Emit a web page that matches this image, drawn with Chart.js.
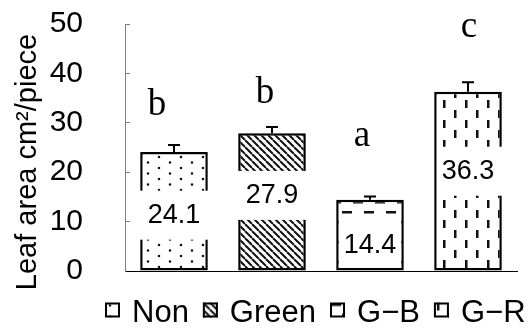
<!DOCTYPE html>
<html>
<head>
<meta charset="utf-8">
<script src="https://cdn.jsdelivr.net/npm/chart.js@4.4.1/dist/chart.umd.min.js"></script>
<style>
  html, body { margin: 0; padding: 0; background: #fff; }
  #wrap { width: 528px; height: 329px; }
</style>
</head>
<body>
<div id="wrap"><canvas id="leaf"></canvas></div>
<script>
'use strict';

// data
const categories = ['Non', 'Green', 'G\u2212B', 'G\u2212R'];
const leafArea = [24.1, 27.9, 14.4, 36.3];
const leafAreaErr = [1.4, 1.25, 0.7, 1.9];
const groupLetters = ['b', 'b', 'a', 'c'];
const yTicks = [0, 10, 20, 30, 40, 50];

const SANS = '"Liberation Sans", Arial, sans-serif';
const SERIF = '"Liberation Serif", "Times New Roman", serif';

const leafCanvas = document.getElementById('leaf');
const mainCtx = leafCanvas.getContext('2d');

// small tiles -> hatch patterns
function makePattern(w, h, draw) {
  const c = document.createElement('canvas');
  c.width = w;
  c.height = h;
  const g = c.getContext('2d');
  g.fillStyle = '#fff';
  g.fillRect(0, 0, w, h);
  g.fillStyle = '#111';
  g.strokeStyle = '#111';
  draw(g);
  return mainCtx.createPattern(c, 'repeat');
}

const dots = makePattern(22, 11, (g) => {
  g.beginPath();
  g.arc(5, 3, 1.3, 0, Math.PI * 2);
  g.arc(16, 8.5, 1.3, 0, Math.PI * 2);
  g.fill();
});

const stripes = makePattern(7, 7, (g) => {
  g.lineWidth = 2;
  g.beginPath();
  [-7, 0, 7].forEach((k) => {
    g.moveTo(k, 0);
    g.lineTo(k + 7, 7);
  });
  g.stroke();
});

const hDashes = makePattern(22, 20, (g) => {
  g.fillRect(1, 1, 10, 2.5);
  g.fillRect(12, 11, 10, 2.5);
});

const vDashes = makePattern(22, 20, (g) => {
  g.fillRect(3, 0, 2.5, 8);
  g.fillRect(14, 10, 2.5, 8);
});

const fills = [dots, stripes, hDashes, vDashes];

// error bars, value boxes and letters on top of the bars
const barNotes = {
  id: 'barNotes',
  afterDatasetsDraw(chart, args, opts) {
    const { ctx } = chart;
    const yScale = chart.scales.y;
    const meta = chart.getDatasetMeta(0);
    ctx.save();
    meta.data.forEach((bar, i) => {
      // error bar (upper half only)
      const yTop = yScale.getPixelForValue(leafArea[i] + leafAreaErr[i]);
      ctx.strokeStyle = '#000';
      ctx.lineWidth = 2;
      ctx.beginPath();
      ctx.moveTo(bar.x, bar.y);
      ctx.lineTo(bar.x, yTop);
      ctx.moveTo(bar.x - 6, yTop);
      ctx.lineTo(bar.x + 6, yTop);
      ctx.stroke();

      // white box with the value
      const cy = yScale.getPixelForValue(opts.valueY[i]);
      const [l, r] = opts.valueBox[i];
      const top = cy - 25;
      const bottom = Math.min(cy + 24, bar.base - 3);
      ctx.fillStyle = '#fff';
      ctx.fillRect(bar.x + l, top, r - l, bottom - top);
      ctx.fillStyle = '#000';
      ctx.font = '27px ' + SANS;
      ctx.textAlign = 'center';
      ctx.textBaseline = 'middle';
      ctx.fillText(leafArea[i].toFixed(1), bar.x, cy);

      // significance letter
      ctx.font = '37px ' + SERIF;
      ctx.textBaseline = 'alphabetic';
      ctx.fillText(groupLetters[i], bar.x + opts.letterDx[i], yScale.getPixelForValue(opts.letterY[i]));
    });
    ctx.restore();
  },
};

// y title + legend with the hatch boxes
const frameText = {
  id: 'frameText',
  afterDraw(chart, args, opts) {
    const { ctx } = chart;
    ctx.save();
    ctx.fillStyle = '#000';
    ctx.font = '29px ' + SANS;
    ctx.translate(opts.titleX, opts.titleY);
    ctx.rotate(-Math.PI / 2);
    ctx.textAlign = 'center';
    ctx.textBaseline = 'alphabetic';
    ctx.fillText('Leaf area cm\u00b2/piece', 0, 0);
    ctx.restore();

    ctx.save();
    ctx.font = '31px ' + SANS;
    ctx.textBaseline = 'middle';
    ctx.textAlign = 'left';
    let x = opts.legendX;
    const box = opts.box;
    categories.forEach((name, i) => {
      ctx.save();
      ctx.translate(x, opts.legendY - box / 2);
      ctx.fillStyle = fills[i];
      ctx.fillRect(0, 0, box, box);
      ctx.lineWidth = 2;
      ctx.strokeStyle = '#000';
      ctx.strokeRect(1, 1, box - 2, box - 2);
      ctx.restore();
      const tx = x + box + 12;
      ctx.fillStyle = '#000';
      ctx.fillText(name, tx, opts.legendY + 3);
      x = tx + ctx.measureText(name).width + 14;
    });
    ctx.restore();
  },
};

// eslint-disable-next-line no-new,no-undef
new Chart(leafCanvas, {
  type: 'bar',
  data: {
    labels: categories,
    datasets: [
      {
        data: leafArea,
        backgroundColor: fills,
        borderColor: '#000',
        borderWidth: 2.5,
        borderSkipped: false,
        barPercentage: 0.69,
        categoryPercentage: 1,
      },
    ],
  },
  options: {
    responsive: true,
    maintainAspectRatio: false,
    animation: false,
    layout: { padding: { top: 24, right: 11, bottom: 58, left: 0 } },
    plugins: {
      legend: { display: false },
      tooltip: { enabled: false },
      barNotes: {
        valueY: [11.2, 15.2, 5.1, 20.1],
        valueBox: [[-36, 36], [-36, 36], [-31, 31], [-31, 36]],
        letterY: [31.6, 34.0, 25.3, 47.3],
        letterDx: [-17, -7, -8, 1],
      },
      frameText: {
        titleX: 36,
        titleY: 162,
        legendX: 105,
        legendY: 310,
        box: 15,
      },
    },
    scales: {
      x: {
        grid: { display: false, drawTicks: false },
        ticks: { display: false },
        border: { color: '#000', width: 1 },
      },
      y: {
        min: 0,
        max: 50,
        afterBuildTicks: (s) => {
          s.ticks = yTicks.map((v) => ({ value: v }));
        },
        afterFit: (s) => {
          // fixed axis width; the big label padding must not push the plot down
          s.width = 125;
          s.paddingTop = 0;
          s.paddingBottom = 0;
        },
        grid: { drawOnChartArea: false, color: '#808080', tickLength: -5 },
        border: { color: '#808080', width: 1 },
        ticks: {
          padding: 47,
          color: '#000',
          font: { family: SANS, size: 30 },
        },
      },
    },
  },
  plugins: [barNotes, frameText],
});
</script>
</body>
</html>
